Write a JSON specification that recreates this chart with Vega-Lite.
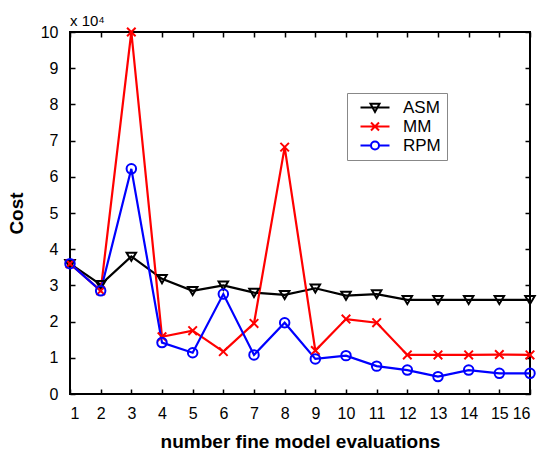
{
  "$schema": "https://vega.github.io/schema/vega-lite/v6.json",
  "autosize": {"type": "none"},
  "width": 460,
  "height": 362,
  "padding": {"left": 70, "top": 32, "right": 8, "bottom": 60},
  "background": "white",
  "config": {
    "font": "Liberation Sans",
    "view": {"stroke": "black", "strokeWidth": 2},
    "axis": {"grid": false, "domain": false, "tickColor": "black", "tickSize": -5, "tickWidth": 1.5, "labelFontSize": 16, "labelColor": "black", "titleColor": "black", "titleFontSize": 19, "titleFontWeight": "bold"}
  },
  "title": {"text": "x 10⁴", "anchor": "start", "frame": "group", "fontSize": 15, "fontWeight": "normal", "offset": 0, "dy": 5, "color": "black"},
  "data": {"values": [
    {"n": 1, "series": "ASM", "cost": 3.6}, {"n": 2, "series": "ASM", "cost": 3.02}, {"n": 3, "series": "ASM", "cost": 3.8},
    {"n": 4, "series": "ASM", "cost": 3.18}, {"n": 5, "series": "ASM", "cost": 2.85}, {"n": 6, "series": "ASM", "cost": 3.0},
    {"n": 7, "series": "ASM", "cost": 2.8}, {"n": 8, "series": "ASM", "cost": 2.74}, {"n": 9, "series": "ASM", "cost": 2.92},
    {"n": 10, "series": "ASM", "cost": 2.72}, {"n": 11, "series": "ASM", "cost": 2.76}, {"n": 12, "series": "ASM", "cost": 2.6},
    {"n": 13, "series": "ASM", "cost": 2.6}, {"n": 14, "series": "ASM", "cost": 2.6}, {"n": 15, "series": "ASM", "cost": 2.6},
    {"n": 16, "series": "ASM", "cost": 2.6},
    {"n": 1, "series": "MM", "cost": 3.6}, {"n": 2, "series": "MM", "cost": 2.85}, {"n": 3, "series": "MM", "cost": 10.0},
    {"n": 4, "series": "MM", "cost": 1.58}, {"n": 5, "series": "MM", "cost": 1.75}, {"n": 6, "series": "MM", "cost": 1.17},
    {"n": 7, "series": "MM", "cost": 1.95}, {"n": 8, "series": "MM", "cost": 6.82}, {"n": 9, "series": "MM", "cost": 1.2},
    {"n": 10, "series": "MM", "cost": 2.07}, {"n": 11, "series": "MM", "cost": 1.97}, {"n": 12, "series": "MM", "cost": 1.08},
    {"n": 13, "series": "MM", "cost": 1.08}, {"n": 14, "series": "MM", "cost": 1.08}, {"n": 15, "series": "MM", "cost": 1.09},
    {"n": 16, "series": "MM", "cost": 1.08},
    {"n": 1, "series": "RPM", "cost": 3.6}, {"n": 2, "series": "RPM", "cost": 2.85}, {"n": 3, "series": "RPM", "cost": 6.22},
    {"n": 4, "series": "RPM", "cost": 1.42}, {"n": 5, "series": "RPM", "cost": 1.14}, {"n": 6, "series": "RPM", "cost": 2.76},
    {"n": 7, "series": "RPM", "cost": 1.08}, {"n": 8, "series": "RPM", "cost": 1.97}, {"n": 9, "series": "RPM", "cost": 0.97},
    {"n": 10, "series": "RPM", "cost": 1.06}, {"n": 11, "series": "RPM", "cost": 0.77}, {"n": 12, "series": "RPM", "cost": 0.66},
    {"n": 13, "series": "RPM", "cost": 0.48}, {"n": 14, "series": "RPM", "cost": 0.66}, {"n": 15, "series": "RPM", "cost": 0.57},
    {"n": 16, "series": "RPM", "cost": 0.57}
  ]},
  "layer": [
    {
      "mark": {"type": "line", "strokeWidth": 2.2, "clip": false},
      "encoding": {
        "x": {"field": "n", "type": "quantitative", "scale": {"domain": [1, 16], "nice": false}, "axis": {"values": [1,2,3,4,5,6,7,8,9,10,11,12,13,14,15,16], "title": "number fine model evaluations", "labelPadding": 16, "titlePadding": 11}},
        "y": {"field": "cost", "type": "quantitative", "scale": {"domain": [0, 10], "nice": false}, "axis": {"values": [0,1,2,3,4,5,6,7,8,9,10], "title": "Cost", "labelPadding": 17, "titlePadding": 14}},
        "color": {"field": "series", "type": "nominal", "scale": {"domain": ["ASM", "MM", "RPM"], "range": ["black", "#ff0000", "#0000ff"]}, "legend": null}
      }
    },
    {
      "mark": {"type": "point", "filled": false, "strokeWidth": 2, "size": 90, "clip": false, "opacity": 1},
      "encoding": {
        "x": {"field": "n", "type": "quantitative", "axis": {"orient": "top", "values": [1,2,3,4,5,6,7,8,9,10,11,12,13,14,15,16], "labels": false, "title": null}},
        "y": {"field": "cost", "type": "quantitative", "axis": {"orient": "right", "values": [0,1,2,3,4,5,6,7,8,9,10], "labels": false, "title": null}},
        "color": {"field": "series", "type": "nominal", "legend": null},
        "shape": {"field": "series", "type": "nominal", "scale": {"domain": ["ASM", "MM", "RPM"], "range": ["M-1,-0.8L1,-0.8L0,0.9Z", "M-0.9,-0.9L0.9,0.9M-0.9,0.9L0.9,-0.9", "circle"]}, "legend": null}
      }
    },
    {
      "mark": {"type": "point", "filled": false, "strokeWidth": 2, "opacity": 0},
      "encoding": {
        "x": {"field": "n", "type": "quantitative", "axis": null},
        "y": {"field": "cost", "type": "quantitative", "axis": null},
        "color": {"field": "series", "type": "nominal", "legend": {"title": null, "orient": "none", "legendX": 277, "legendY": 61, "strokeColor": "#888888", "fillColor": "white", "padding": 6, "labelFontSize": 17, "labelColor": "black", "symbolSize": 100, "symbolStrokeWidth": 2, "symbolOpacity": 1, "rowPadding": 1, "labelOffset": 33}},
        "shape": {"field": "series", "type": "nominal", "scale": {"domain": ["ASM", "MM", "RPM"], "range": ["M-0.2,0H5.6M1.8,-0.75L3.6,-0.75L2.7,0.9Z", "M-0.2,0H5.6M1.9,-0.8L3.5,0.8M1.9,0.8L3.5,-0.8", "M-0.2,0H1.9M3.5,0H5.6M1.9,0A0.8,0.8 0 1,1 3.5,0A0.8,0.8 0 1,1 1.9,0"]}, "legend": {"title": null, "orient": "none", "legendX": 277, "legendY": 61}}
      }
    }
  ],
  "resolve": {"scale": {"shape": "independent"}, "axis": {"x": "independent", "y": "independent"}, "legend": {"color": "independent", "shape": "independent"}}
}
